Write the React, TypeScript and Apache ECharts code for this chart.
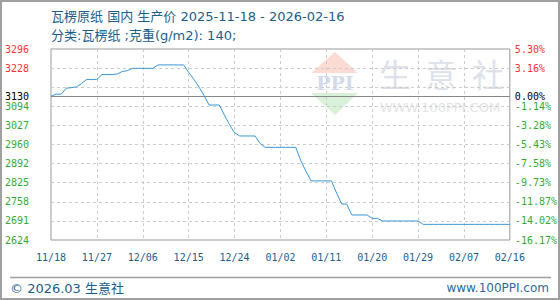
import React, { useEffect, useRef } from "react";
import * as echarts from "echarts";

const dates = [
  "11/18","11/19","11/20","11/21","11/22","11/23","11/24","11/25","11/26","11/27","11/28","11/29","11/30",
  "12/01","12/02","12/03","12/04","12/05","12/06","12/07","12/08","12/09","12/10","12/11","12/12","12/13","12/14","12/15","12/16","12/17","12/18","12/19","12/20","12/21","12/22","12/23","12/24","12/25","12/26","12/27","12/28","12/29","12/30","12/31",
  "01/01","01/02","01/03","01/04","01/05","01/06","01/07","01/08","01/09","01/10","01/11","01/12","01/13","01/14","01/15","01/16","01/17","01/18","01/19","01/20","01/21","01/22","01/23","01/24","01/25","01/26","01/27","01/28","01/29","01/30","01/31",
  "02/01","02/02","02/03","02/04","02/05","02/06","02/07","02/08","02/09","02/10","02/11","02/12","02/13","02/14","02/15","02/16",
];

const prices = [
  3130, 3137, 3137, 3158, 3160, 3163, 3174, 3189, 3189, 3189, 3206, 3206, 3206,
  3208, 3217, 3220, 3228, 3228, 3228, 3228, 3228, 3240, 3240, 3240, 3240, 3240, 3240, 3214, 3190, 3163, 3133, 3099, 3099, 3099, 3064, 3030, 3001, 2990, 2990, 2990, 2990, 2964, 2950, 2950,
  2950, 2950, 2950, 2950, 2950, 2903, 2866, 2832, 2832, 2832, 2832, 2832, 2790, 2751, 2750, 2712, 2712, 2712, 2712, 2700, 2700, 2691, 2691, 2691, 2691, 2691, 2691, 2691, 2691, 2679, 2679,
  2679, 2679, 2679, 2679, 2679, 2679, 2679, 2679, 2679, 2679, 2679, 2679, 2679, 2679, 2679, 2679,
];

const baseValue = 3130;
const axisMin = 2624;
const axisMax = 3296;
const axisStep = 67.2;

const titleText = "瓦楞原纸 国内 生产价 2025-11-18 - 2026-02-16";
const subtitleText = "分类:瓦楞纸 ;克重(g/m2): 140;";
const footerLeft = "© 2026.03 生意社";
const footerRight = "www.100PPI.com";

const RED = "#ff3333";
const GREEN = "#33aa33";
const BLUE_TEXT = "#1b5e8c";
const MONO = "DejaVu Sans Mono, monospace";
const SANS = "DejaVu Sans, Noto Sans CJK SC, sans-serif";

const isHidden = (v: number) => Math.abs(v - 3161.6) < 1;

export default function App() {
  const ref = useRef<HTMLDivElement>(null);

  useEffect(() => {
    document.body.style.margin = "0";
    if (!ref.current) return;
    const chart = echarts.init(ref.current, undefined, { renderer: "svg" });
    const dashed = { color: "#cccccc", type: [3, 3] as any, width: 1 };
    chart.setOption({
      animation: false,
      backgroundColor: "#ffffff",
      textStyle: { fontFamily: SANS },
      grid: {
        left: 51,
        right: 50,
        top: 49,
        bottom: 60,
        show: true,
        borderColor: "#999999",
        borderWidth: 1,
        backgroundColor: "transparent",
      },
      xAxis: {
        type: "category",
        data: dates,
        boundaryGap: false,
        axisLine: { show: false },
        axisTick: { show: false },
        axisLabel: {
          interval: 8,
          color: BLUE_TEXT,
          fontFamily: MONO,
          fontSize: 10,
          margin: 12,
          showMaxLabel: true,
        },
        splitLine: {
          show: true,
          interval: 8,
          showMinLine: false,
          showMaxLine: false,
          lineStyle: dashed,
        },
      },
      yAxis: [
        {
          type: "value",
          position: "left",
          min: axisMin,
          max: axisMax,
          interval: axisStep,
          axisLine: { show: false },
          axisTick: { show: false },
          splitLine: { show: true, showMinLine: false, showMaxLine: false, lineStyle: dashed },
          axisLabel: {
            align: "left",
            margin: 46,
            fontFamily: MONO,
            fontSize: 10,
            formatter: (v: number) => (isHidden(v) ? "" : String(Math.floor(v + 1e-6))),
            color: (v: any) => (Number(v) > baseValue ? RED : GREEN),
          },
        },
        {
          type: "value",
          position: "right",
          min: axisMin,
          max: axisMax,
          interval: axisStep,
          axisLine: { show: false },
          axisTick: { show: false },
          splitLine: { show: false },
          axisLabel: {
            align: "left",
            margin: 5,
            fontFamily: MONO,
            fontSize: 10,
            formatter: (v: number) =>
              isHidden(v) ? "" : (((v - baseValue) / baseValue) * 100).toFixed(2) + "%",
            color: (v: any) => (Number(v) > baseValue ? RED : GREEN),
          },
        },
      ],
      series: [
        {
          type: "line",
          data: prices,
          symbol: "none",
          z: 5,
          lineStyle: { color: "#3a96d6", width: 1 },
          markLine: {
            silent: true,
            symbol: "none",
            lineStyle: { color: "#888888", type: "solid", width: 1 },
            data: [
              {
                yAxis: baseValue,
                label: {
                  position: "start",
                  formatter: String(baseValue),
                  color: "#000000",
                  fontFamily: MONO,
                  fontSize: 10,
                  distance: 22,
                },
              },
              {
                yAxis: baseValue,
                label: {
                  position: "end",
                  formatter: "0.00%",
                  color: "#000000",
                  fontFamily: MONO,
                  fontSize: 10,
                  distance: 5,
                },
              },
            ],
          },
        },
      ],
      graphic: [
        {
          type: "rect",
          z: 100,
          shape: { x: 1, y: 1, width: 558, height: 298 },
          style: { fill: "none", stroke: "#a0a0a0", lineWidth: 2 },
        },
        {
          type: "text",
          x: 51,
          y: 16,
          style: { text: titleText, fill: BLUE_TEXT, font: `13px ${SANS}`, verticalAlign: "middle" },
        },
        {
          type: "text",
          x: 51,
          y: 35,
          style: { text: subtitleText, fill: BLUE_TEXT, font: `13px ${SANS}`, verticalAlign: "middle" },
        },
        {
          type: "line",
          shape: { x1: 10, y1: 277.5, x2: 551, y2: 277.5 },
          style: { stroke: "#a0a0a0", lineWidth: 1.5 },
        },
        {
          type: "text",
          x: 10,
          y: 288,
          style: { text: footerLeft, fill: BLUE_TEXT, font: `13px ${SANS}`, verticalAlign: "middle" },
        },
        {
          type: "text",
          x: 549,
          y: 288,
          style: { text: footerRight, fill: "#2a6a9e", font: `12px ${SANS}`, verticalAlign: "middle", align: "right" },
        },
        // watermark
        {
          type: "polygon",
          z: -1,
          shape: { points: [[335, 52], [358, 73], [311, 73]] },
          style: { fill: "#fadcd5" },
        },
        {
          type: "polygon",
          z: -1,
          shape: { points: [[311, 93], [358, 93], [335, 115]] },
          style: { fill: "#d9f0d9" },
        },
        {
          type: "text",
          z: -1,
          x: 335,
          y: 83,
          style: { text: "PPI", fill: "#d3dbeb", font: "bold 19px DejaVu Serif, serif", align: "center", verticalAlign: "middle" },
        },
        {
          type: "text",
          z: -1,
          x: 395,
          y: 73,
          style: { text: "生", fill: "#dce1eb", font: "32px Noto Sans CJK SC", align: "center", verticalAlign: "middle" },
        },
        {
          type: "text",
          z: -1,
          x: 441,
          y: 73,
          style: { text: "意", fill: "#dce1eb", font: "32px Noto Sans CJK SC", align: "center", verticalAlign: "middle" },
        },
        {
          type: "text",
          z: -1,
          x: 488,
          y: 73,
          style: { text: "社", fill: "#dce1eb", font: "32px Noto Sans CJK SC", align: "center", verticalAlign: "middle" },
        },
        {
          type: "text",
          z: -1,
          x: 440,
          y: 107,
          style: { text: "WWW.100PPI.COM", fill: "#e4e4e4", font: "13px DejaVu Sans, sans-serif", align: "center", verticalAlign: "middle" },
        },
      ],
    });
    return () => chart.dispose();
  }, []);

  return (
    <div
      ref={ref}
      style={{ position: "absolute", left: 0, top: 0, width: 560, height: 300 }}
    />
  );
}
